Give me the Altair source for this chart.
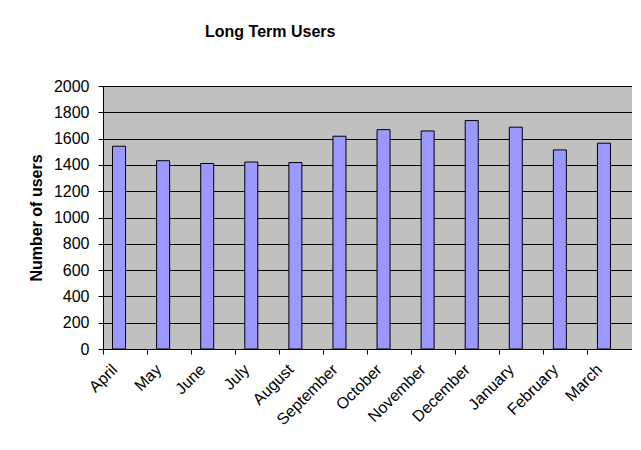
import altair as alt
import pandas as pd

months = ["April", "May", "June", "July", "August", "September", "October",
          "November", "December", "January", "February", "March"]
users = [1542, 1432, 1411, 1422, 1418, 1618, 1668, 1658, 1737, 1687, 1514, 1565]

df = pd.DataFrame({"month": months, "users": users})
FONT = "Liberation Sans"

chart = alt.Chart(df).mark_bar(
    size=13, color="#9999FF", stroke="#000000", strokeWidth=1, xOffset=-6
).encode(
    x=alt.X("month:N", sort=months, title=None,
            scale=alt.Scale(paddingInner=0, paddingOuter=0),
            axis=alt.Axis(bandPosition=0, labelAngle=-45, labelAlign="right",
                          labelBaseline="top", labelOffset=-16, labelPadding=7,
                          tickSize=5, tickColor="#000000", domainColor="#000000",
                          labelFont=FONT, labelFontSize=16, labelColor="#000000",
                          grid=False)),
    y=alt.Y("users:Q", title="Number of users",
            scale=alt.Scale(domain=[0, 2000], nice=False),
            axis=alt.Axis(values=list(range(0, 2001, 200)), format="d", tickSize=5,
                          tickColor="#000000", domainColor="#000000",
                          gridColor="#000000", gridWidth=1, gridOpacity=1,
                          labelFont=FONT, labelFontSize=16, labelColor="#000000",
                          labelPadding=9, titleFont=FONT, titleFontSize=16,
                          titleFontWeight="bold", titleColor="#000000",
                          titlePadding=9)),
).properties(
    width=529, height=263,
    title=alt.TitleParams("Long Term Users", font=FONT, fontSize=16,
                          fontWeight="bold", color="#000000", offset=38,
                          anchor="start", frame="group", dx=102),
    padding={"left": 20, "top": 16, "right": 0, "bottom": 5},
).configure_view(
    fill="#C0C0C0", stroke="#808080", strokeWidth=1
)

chart.save("out.html", embed_options={"renderer": "svg", "actions": False})
